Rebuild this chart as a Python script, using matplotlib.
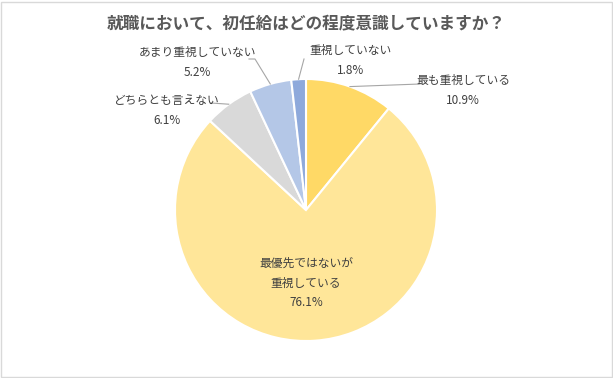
import matplotlib
matplotlib.use("Agg")
import matplotlib.pyplot as plt
import numpy as np

plt.rcParams['font.family'] = ['Noto Sans CJK JP', 'DejaVu Sans']

# data (clockwise from 12 o'clock)
labels = ["最も重視している", "最優先ではないが\n重視している", "どちらとも言えない",
          "あまり重視していない", "重視していない"]
values = [10.9, 76.1, 6.1, 5.2, 1.8]
colors = ["#FFD966", "#FFE699", "#D9D9D9", "#B4C7E7", "#8EA9DB"]
title = "就職において、初任給はどの程度意識していますか？"

W, H = 613, 378
fig = plt.figure(figsize=(W / 100, H / 100), dpi=100)
ax = fig.add_axes([0, 0, 1, 1])
ax.set_aspect("equal")

cx, cy, r = 306, H - 210, 131
wedges, _ = ax.pie(values, colors=colors, startangle=90, counterclock=False,
                   center=(cx, cy), radius=r, frame=True,
                   wedgeprops=dict(edgecolor="white", linewidth=1.5))
ax.set_xlim(0, W)
ax.set_ylim(0, H)
ax.axis("off")

# label layout: (text x, text y, leader path end points)
txt_kw = dict(fontsize=8.5, color="#404040", ha="center", va="center")
layout = [
    ((463, 80), [(420, 84)]),
    ((306, 263), None),
    ((167, 100), [(211, 103)]),
    ((197, 52), [(255, 59), (249, 59)]),
    ((351, 50), [(304, 59)]),
]
for w, lab, val, (pos, leader) in zip(wedges, labels, values, layout):
    tx, ty = pos
    if "\n" in lab:
        lines = lab.split("\n")
        for i, ln in enumerate(lines):
            ax.text(tx, H - (ty + 20 * i), ln, **txt_kw)
        ax.text(tx, H - (ty + 20 * len(lines)), f"{val}%", **txt_kw)
        continue
    ax.text(tx, H - ty, lab, **txt_kw)
    ax.text(tx, H - (ty + 21), f"{val}%", **txt_kw)
    if leader:
        mid = np.deg2rad((w.theta1 + w.theta2) / 2)
        pts = [(cx + r * np.cos(mid), cy + r * np.sin(mid))] + [(x, H - y) for x, y in leader]
        xs, ys = zip(*pts)
        ax.plot(xs, ys, color="#A6A6A6", lw=0.8)

fig.text(0.5, 1 - 23 / H, title, ha="center", va="center", fontsize=12,
         fontweight="bold", color="#595959")

fig.patches.append(plt.Rectangle((1 / W, 1 / H), 1 - 2.5 / W, 1 - 2.5 / H,
                                 transform=fig.transFigure, fill=False,
                                 edgecolor="#D9D9D9", lw=1))

fig.savefig("out.png", dpi=100, facecolor="white")
